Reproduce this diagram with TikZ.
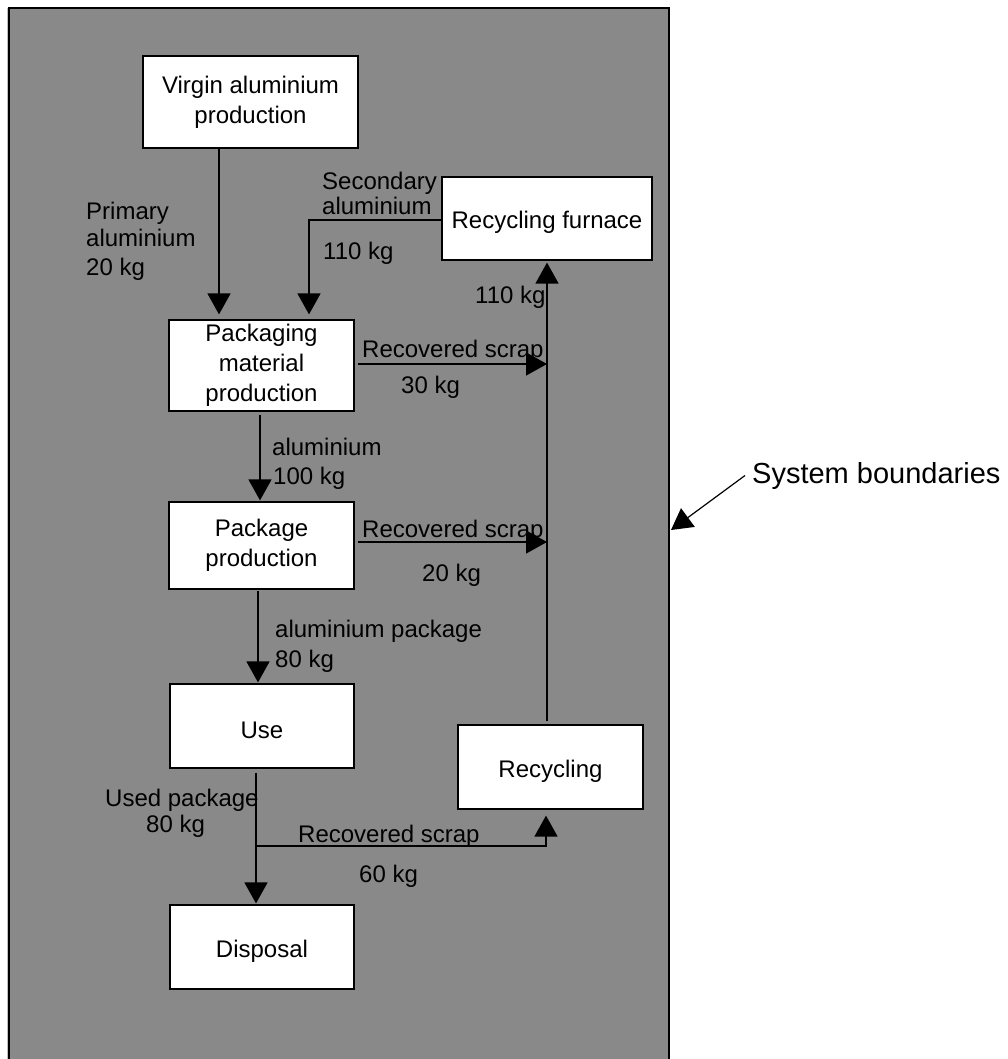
\documentclass[tikz,border=0pt]{standalone}
\usepackage{fontspec}
\setmainfont{Liberation Sans}
\usetikzlibrary{arrows.meta}

\definecolor{boundfill}{RGB}{137,137,137}
\definecolor{boundedge}{RGB}{185,185,235}

\tikzset{
  box/.style={draw=black, line width=1.2pt, fill=white, align=center,
              inner sep=0pt, font=\fontsize{24}{30}\selectfont,
              execute at begin node={\rule{0pt}{25pt}}},
  lbl/.style={anchor=base west, inner sep=0pt, font=\fontsize{24}{29}\selectfont},
  flow/.style={line width=1.4pt, draw=black},
  arr/.style={flow, -{Triangle[length=21pt,width=23pt]}}
}

\begin{document}
\begin{tikzpicture}[x=1pt, y=-1pt]
  \useasboundingbox (0,0) rectangle (1007,1059);

  % system boundary
  \fill[boundfill] (9,8) rectangle (669,1075);
  \draw[black, line width=1.3pt] (9,1075) -- (9,8) -- (669,8) -- (669,1075);
  \draw[boundedge, line width=1.2pt] (7.5,8) -- (7.5,1059);

  % processes
  \node[box, minimum width=215pt, minimum height=92pt] (virgin)    at (250.5,102)   {Virgin aluminium\\production};
  \node[box, minimum width=210pt, minimum height=83pt] (furnace)   at (547,218.5)   {Recycling furnace};
  \node[box, minimum width=185pt, minimum height=91pt] (packmat)   at (261.5,365.5) {Packaging\\material\\production};
  \node[box, minimum width=185pt, minimum height=87pt] (package)   at (261.5,545.5) {Package\\production};
  \node[box, minimum width=184pt, minimum height=84pt] (use)       at (262,726)     {Use};
  \node[box, minimum width=185pt, minimum height=84pt] (recycling) at (550.5,767)   {Recycling};
  \node[box, minimum width=184pt, minimum height=84pt] (disposal)  at (262,947)     {Disposal};

  % material flows
  \draw[arr, shorten >=5pt] ([xshift=-31.5pt]virgin.south) -- ([xshift=-31.5pt]virgin.south |- packmat.north);
  \draw[arr, shorten >=5pt] ([yshift=-1.5pt]furnace.west) -| ([xshift=47.5pt]packmat.north);
  \draw[arr, shorten <=3pt, shorten >=1pt] ([xshift=-1.5pt]packmat.south) -- ([xshift=-1.5pt]packmat.south |- package.north);
  \draw[arr, shorten <=1pt, shorten >=1pt] ([xshift=-3.5pt]package.south) -- ([xshift=-3.5pt]package.south |- use.north);
  \draw[arr, shorten <=4pt, shorten >=1pt] ([xshift=-6pt]use.south) -- ([xshift=-6pt]use.south |- disposal.north);
  \coordinate (split) at (256,846);
  \draw[arr, shorten >=6pt] (split) -| ([xshift=-4.5pt]recycling.south);
  \draw[arr, shorten <=3pt, shorten >=2pt] (recycling.north -| furnace.south) -- (furnace.south);
  \draw[arr, shorten <=3pt] ([yshift=1.5pt]packmat.east) -- ([yshift=1.5pt]packmat.east -| furnace.south);
  \draw[arr, shorten <=3pt] ([yshift=3.5pt]package.east) -- ([yshift=3.5pt]package.east -| furnace.south);

  % flow labels
  \node[lbl] (p1) at (86,220) {Primary};
  \node[lbl] (p2) at (86,247) {aluminium};
  \node[lbl] (p3) at (86,275) {20 kg};
  \node[lbl] (s1) at (322,190) {Secondary};
  \node[lbl] (s2) at (322,215) {aluminium};
  \node[lbl] (s3) at (323,259) {110 kg};
  \node[lbl] (f1) at (475,303) {110 kg};
  \node[lbl] (r1a) at (362,357) {Recovered scrap};
  \node[lbl] (r1b) at (401,393) {30 kg};
  \node[lbl] (a1) at (272,455) {aluminium};
  \node[lbl] (a2) at (273,484) {100 kg};
  \node[lbl] (r2a) at (362,537) {Recovered scrap};
  \node[lbl] (r2b) at (422,581) {20 kg};
  \node[lbl] (b1) at (275,637) {aluminium package};
  \node[lbl] (b2) at (275,667) {80 kg};
  \node[lbl] (u1) at (105,806) {Used package};
  \node[lbl] (u2) at (146,832) {80 kg};
  \node[lbl] (r3a) at (298,842) {Recovered scrap};
  \node[lbl] (r3b) at (359,882) {60 kg};

  % boundary callout
  \node[lbl, font=\fontsize{29}{33}\selectfont] (sb) at (752,483) {System boundaries};
  \coordinate (sbtip) at (671,530);
  \draw[arr, line width=1.2pt] ([xshift=-7pt]sb.west) -- (sbtip);
\end{tikzpicture}
\end{document}
